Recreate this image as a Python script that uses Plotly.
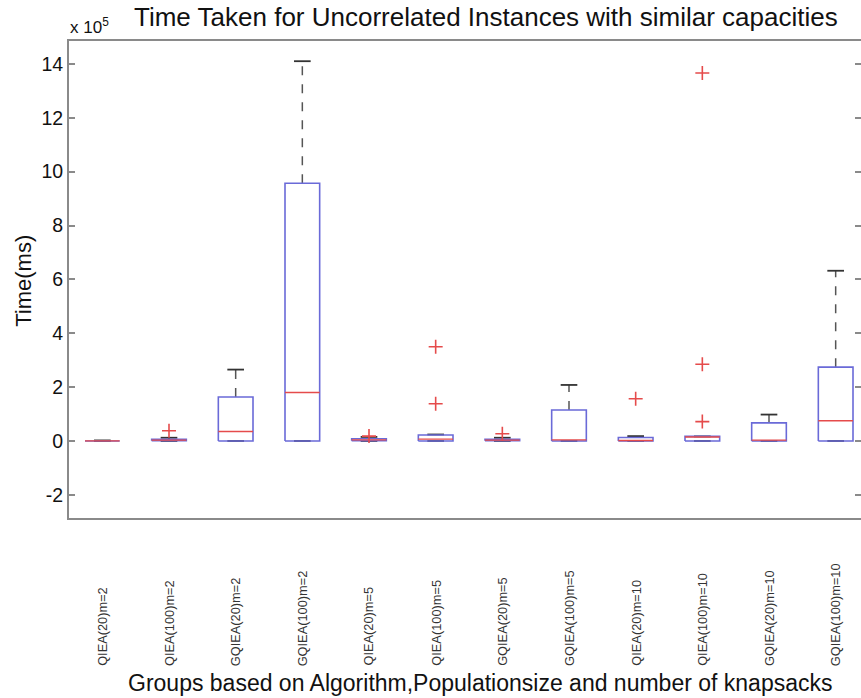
import plotly.graph_objects as go

# ---- data (Time in units of 10^5 ms) ----
labels = ["QIEA(20)m=2", "QIEA(100)m=2", "GQIEA(20)m=2", "GQIEA(100)m=2",
          "QIEA(20)m=5", "QIEA(100)m=5", "GQIEA(20)m=5", "GQIEA(100)m=5",
          "QIEA(20)m=10", "QIEA(100)m=10", "GQIEA(20)m=10", "GQIEA(100)m=10"]
lower = [0.0, 0.0, 0.0, 0.0, 0.0, 0.0, 0.0, 0.0, 0.0, 0.0, 0.0, 0.0]
q1 = [0.0, 0.01, 0.0, 0.0, 0.01, 0.0, 0.01, 0.0, 0.0, 0.0, 0.0, 0.0]
median = [0.005, 0.03, 0.35, 1.8, 0.04, 0.07, 0.03, 0.04, 0.02, 0.15, 0.03, 0.75]
q3 = [0.01, 0.06, 1.63, 9.57, 0.08, 0.22, 0.06, 1.15, 0.13, 0.17, 0.67, 2.74]
upper = [0.02, 0.12, 2.65, 14.1, 0.15, 0.24, 0.12, 2.08, 0.18, 0.17, 0.98, 6.32]
outliers = [[], [0.38], [], [], [0.18], [1.38, 3.5], [0.27], [], [1.57],
            [0.72, 2.85, 13.66], [], []]
yticks = [-2, 0, 2, 4, 6, 8, 10, 12, 14]

BOX_C = "#6a6ad8"
MED_C = "#e54b4b"
WH_C = "#555555"
HW = 0.26   # half box width
CW = 0.125  # half cap width

fig = go.Figure()
for i in range(len(labels)):
    x = i + 1
    # whiskers (dashed)
    fig.add_trace(go.Scatter(x=[x, x, None, x, x], y=[q3[i], upper[i], None, q1[i], lower[i]],
                             mode="lines", line=dict(color=WH_C, width=1.5, dash="dash"),
                             hoverinfo="skip", showlegend=False))
    # caps
    fig.add_trace(go.Scatter(x=[x - CW, x + CW, None, x - CW, x + CW],
                             y=[upper[i], upper[i], None, lower[i], lower[i]],
                             mode="lines", line=dict(color="#333333", width=1.8),
                             hoverinfo="skip", showlegend=False))
    # box
    fig.add_trace(go.Scatter(x=[x - HW, x + HW, x + HW, x - HW, x - HW],
                             y=[q1[i], q1[i], q3[i], q3[i], q1[i]],
                             mode="lines", line=dict(color=BOX_C, width=1.6),
                             hoverinfo="skip", showlegend=False))
    # median
    fig.add_trace(go.Scatter(x=[x - HW, x + HW], y=[median[i], median[i]],
                             mode="lines", line=dict(color=MED_C, width=1.4),
                             hoverinfo="skip", showlegend=False))
    # outliers
    if outliers[i]:
        fig.add_trace(go.Scatter(x=[x] * len(outliers[i]), y=outliers[i], mode="markers",
                                 marker=dict(symbol="cross-thin", size=10,
                                             line=dict(color=MED_C, width=1.6)),
                                 hoverinfo="skip", showlegend=False))

# invisible trace so the right-hand (mirrored) tick axis is drawn
fig.add_trace(go.Scatter(x=list(range(1, len(labels) + 1)), y=median, yaxis="y2",
                         mode="markers", marker=dict(opacity=0), hoverinfo="skip",
                         showlegend=False))

FRAME = "#8a8a8a"
YRANGE = [-2.86, 14.85]
fig.update_layout(
    width=861, height=698,
    margin=dict(l=69, r=0, t=41, b=180),
    plot_bgcolor="white", paper_bgcolor="white",
    font=dict(family="Liberation Sans, Arial, sans-serif", color="#111111"),
    yaxis2=dict(overlaying="y", side="right", range=YRANGE, tickvals=yticks,
                showticklabels=False, ticks="inside", ticklen=6, tickcolor=FRAME,
                tickwidth=1.5, showline=False, showgrid=False, zeroline=False),
)
fig.update_xaxes(range=[0.5, 12.38], showticklabels=False, ticks="",
                 showline=True, linecolor=FRAME, linewidth=2, mirror=True,
                 showgrid=False, zeroline=False)
fig.layout.yaxis.update(range=YRANGE, tickvals=yticks, ticktext=[str(v) for v in yticks],
                        ticks="inside", ticklen=6, tickcolor=FRAME, tickwidth=1.5,
                        showline=True, linecolor=FRAME, linewidth=2,
                        showgrid=False, zeroline=False,
                        tickfont=dict(size=19.5, color="#111111"))

# rotated category labels, bottoms aligned
for i, lab in enumerate(labels):
    fig.add_annotation(x=i + 1, xref="x", y=-0.3145, yref="paper", text=lab,
                       textangle=-90, xanchor="center", yanchor="bottom",
                       showarrow=False, font=dict(size=12.8, color="#333333"))

fig.add_annotation(x=0.519, xref="paper", y=-0.346, yref="paper",
                   text="Groups based on Algorithm,Populationsize and number of knapsacks",
                   showarrow=False, xanchor="center", yanchor="middle",
                   font=dict(size=23, color="#111111"))
fig.add_annotation(x=0.5265, xref="paper", y=1.05, yref="paper",
                   text="Time Taken for Uncorrelated Instances with similar capacities",
                   showarrow=False, xanchor="center", yanchor="middle",
                   font=dict(size=26, color="#111111"))
fig.add_annotation(x=-0.001, xref="paper", y=1.031, yref="paper",
                   text="x 10<sup>5</sup>", showarrow=False, xanchor="left", yanchor="middle",
                   font=dict(size=17, color="#111111"))
fig.add_annotation(x=-0.057, xref="paper", y=0.497, yref="paper",
                   text="Time(ms)", textangle=-90, showarrow=False,
                   xanchor="center", yanchor="middle",
                   font=dict(size=22, color="#111111"))

fig.write_html("out.html")
